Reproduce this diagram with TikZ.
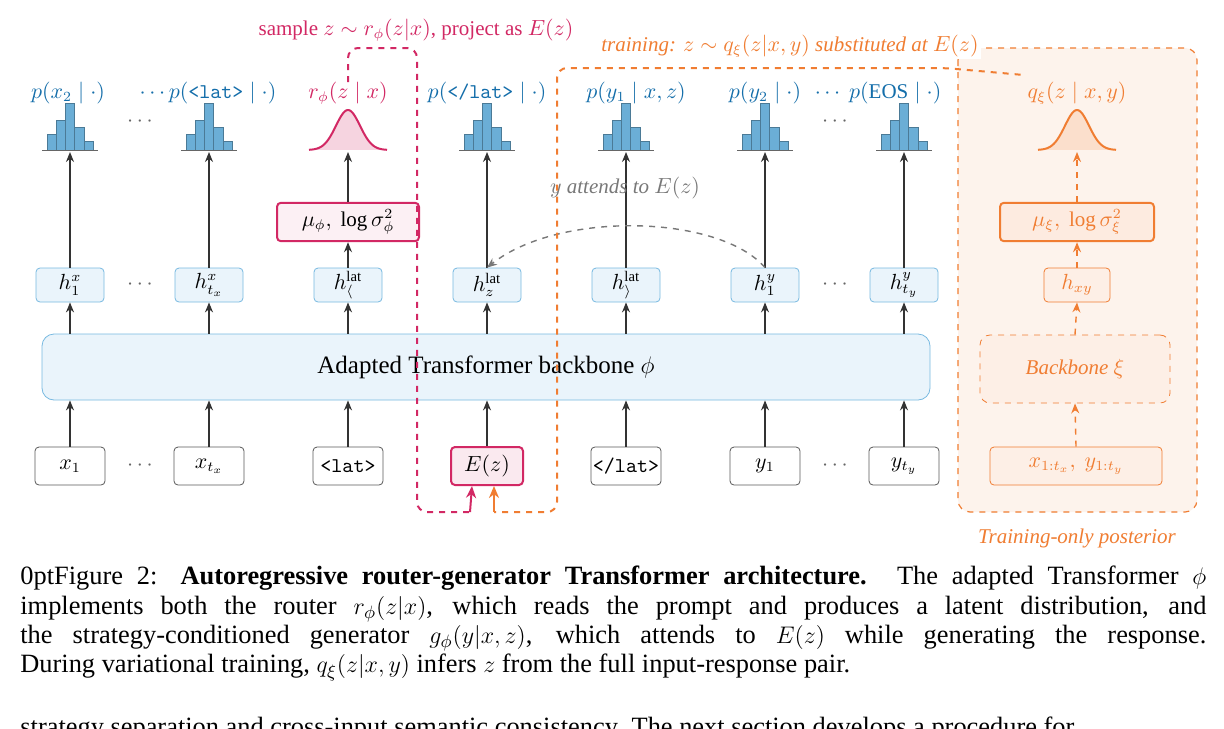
\documentclass[tikz,border=0pt]{standalone}
\usepackage{fontspec}
\setmainfont{Liberation Serif}
\usetikzlibrary{arrows.meta}
\definecolor{tblue}{RGB}{20,110,170}
\definecolor{hfill}{RGB}{107,174,214}
\definecolor{hbox}{RGB}{234,244,251}
\definecolor{hbord}{RGB}{120,185,225}
\definecolor{tred}{RGB}{210,40,100}
\definecolor{tora}{RGB}{240,125,50}
\definecolor{ofill}{RGB}{253,243,236}
\definecolor{gtxt}{RGB}{120,120,120}
\begin{document}
\begin{tikzpicture}[x=0.5pt,y=-0.5pt,
  fs/.style={font=\fontsize{10.5}{12}\selectfont},
  hb/.style={draw=hbord,fill=hbox,rounded corners=2pt,minimum width=34pt,minimum height=17pt,inner sep=1pt,fs},
  ib/.style={draw=black!65,fill=white,rounded corners=2pt,minimum width=35pt,minimum height=19pt,inner sep=1pt,fs},
  lab/.style={fs,text=tblue},
  ar/.style={-{Stealth[length=5pt,width=4pt]},black!80,line width=0.6pt},
  oar/.style={-{Stealth[length=5pt,width=4pt]},tora,dashed,line width=0.7pt},
  dots/.style={fs,text=black!60}]
\clip (0,0) rectangle (1224,728);
\fill[white] (0,0) rectangle (1224,728);
% right panel
\draw[tora,dashed,fill=ofill,rounded corners=6pt,line width=0.6pt] (958,48) rectangle (1197,512);
% histograms
\foreach \c in {70,209,487,626,765,904}{
  \foreach \i/\h in {0/16,1/30,2/47,3/23,4/9}{
    \fill[hfill,draw=hfill!70!black,line width=0.3pt] (\c-23+\i*9.2,150) rectangle ++(9.2,-\h);}
  \draw[black!60,line width=0.5pt] (\c-28,150) -- (\c+28,150);}
% gaussians
\filldraw[tred,fill=tred!20,line width=1pt] plot[domain=-39:39,samples=60] ({348+\x},{150-40*exp(-(\x/17)^2)});
\filldraw[tora,fill=tora!25,line width=1pt] plot[domain=-39:39,samples=60] ({1077+\x},{150-40*exp(-(\x/17)^2)});
% labels
\node[lab] (l1) at (68,93) {$p(x_2\mid\cdot)$};
\node[lab] (l2) at (208,93) {$\cdots p(\texttt{<lat>}\mid\cdot)$};
\node[lab,text=tred] (l3) at (348,93) {$r_\phi(z\mid x)$};
\node[lab] (l4) at (487,93) {$p(\texttt{</lat>}\mid\cdot)$};
\node[lab] (l5) at (636,93) {$p(y_1\mid x,z)$};
\node[lab] (l6) at (765,93) {$p(y_2\mid\cdot)$};
\node[lab] (l7) at (878,93) {$\cdots\ p(\mathrm{EOS}\mid\cdot)$};
\node[lab,text=tora] (l8) at (1077,93) {$q_\xi(z\mid x,y)$};
\node[dots] (d1) at (140,122) {$\cdots$};
\node[dots] (d2) at (835,122) {$\cdots$};
% mu boxes
\node[draw=tred,fill=tred!7,line width=1pt,rounded corners=2pt,minimum width=71pt,minimum height=17pt,fs] (mu) at (348,222) {$\mu_\phi,\ \log\sigma_\phi^2$};
\node[draw=tora,fill=tora!15,line width=1pt,rounded corners=2pt,minimum width=77pt,minimum height=17pt,fs,text=tora] (mux) at (1077,222) {$\mu_\xi,\ \log\sigma_\xi^2$};
% h boxes
\node[hb] (h1) at (70,285) {$h_1^x$};
\node[hb] (h2) at (209,285) {$h_{t_x}^x$};
\node[hb] (h3) at (348,285) {$h_\langle^{\mathrm{lat}}$};
\node[hb] (h4) at (487,285) {$h_z^{\mathrm{lat}}$};
\node[hb] (h5) at (626,285) {$h_\rangle^{\mathrm{lat}}$};
\node[hb] (h6) at (765,285) {$h_1^y$};
\node[hb] (h7) at (904,285) {$h_{t_y}^y$};
\node[draw=tora,fill=tora!12,rounded corners=2pt,minimum width=33pt,minimum height=17pt,inner sep=1pt,fs,text=tora] (hxy) at (1077,285) {$h_{xy}$};
\node[dots] (d3) at (140,285) {$\cdots$};
\node[dots] (d4) at (835,285) {$\cdots$};
% backbone
\node[draw=hbord,fill=hbox,rounded corners=6pt,minimum width=444pt,minimum height=33pt,font=\fontsize{12.5}{14}\selectfont] (bb) at (486,367) {Adapted Transformer backbone $\phi$};
\node[draw=tora,dashed,fill=tora!12,rounded corners=5pt,minimum width=95pt,minimum height=34pt,font=\fontsize{10.5}{12}\itshape\selectfont,text=tora] (bx) at (1075,369) {Backbone $\xi$};
% inputs
\node[ib] (i1) at (70,466) {$x_1$};
\node[ib] (i2) at (209,466) {$x_{t_x}$};
\node[ib] (i3) at (348,466) {\texttt{<lat>}};
\node[ib,draw=tred,fill=tred!10,line width=1pt,minimum width=36pt] (i4) at (487,466) {$E(z)$};
\node[ib] (i5) at (626,466) {\texttt{</lat>}};
\node[ib] (i6) at (765,466) {$y_1$};
\node[ib] (i7) at (904,466) {$y_{t_y}$};
\node[ib,draw=tora,fill=tora!12,minimum width=86pt,text=tora] (ix) at (1076,466) {$x_{1:t_x},\ y_{1:t_y}$};
\node[dots] (d5) at (140,466) {$\cdots$};
\node[dots] (d6) at (835,466) {$\cdots$};
% arrows
\foreach \n in {1,2,3,4,5,6,7}{
  \draw[ar] (i\n.north) -- (i\n.north |- bb.south);
  \draw[ar] (h\n.south |- bb.north) -- (h\n.south);}
\foreach \n/\c in {1/70,2/209,4/487,5/626,6/765,7/904}{
  \draw[ar] (h\n.north) -- (\c,152);}
\draw[ar] (h3.north) -- (mu.south);
\draw[ar] (mu.north) -- (348,152);
\draw[oar] (ix.north) -- (bx.south);
\draw[oar] (bx.north) -- (hxy.south);
\draw[oar] (hxy.north) -- (mux.south);
\draw[oar] (mux.north) -- (1077,152);
% attention curve
\draw[gtxt,dashed,line width=0.7pt,-{Stealth[length=5pt,width=4pt]}] (h6.north) .. controls (720,215) and (560,210) .. (h4.north);
\node[font=\fontsize{10.5}{12}\itshape\selectfont,text=gtxt] (att) at (625,188) {$y$ attends to $E(z)$};
% red sample path
\coordinate (r0) at (348,82);
\draw[tred,dashed,line width=1pt,rounded corners=5pt] (r0) -- (348,48) -- (417,48) -- (417,512) -- (470,512);
\draw[tred,line width=1pt,-{Stealth[length=6pt,width=5pt]}] (470,512) -- (i4.south -| 472,0);
\node[fs,text=tred] (st) at (416,30) {sample $z\sim r_\phi(z|x)$, project as $E(z)$};
% orange training path
\draw[tora,dashed,line width=1pt,rounded corners=5pt] (l8.north west) -- (945,68) -- (557,68) -- (557,512) -- (494,512);
\draw[tora,line width=1pt,-{Stealth[length=6pt,width=5pt]}] (494,512) -- (i4.south -| 494,0);
\node[font=\fontsize{10.5}{12}\itshape\selectfont,text=tora,fill=white,inner sep=1pt] (tt) at (790,46) {training: $z\sim q_\xi(z|x,y)$ substituted at $E(z)$};
\node[font=\fontsize{10.5}{12}\itshape\selectfont,text=tora] (top) at (1077,538) {Training-only posterior};
% caption
\node[anchor=north west,text width=593pt,align=justify,inner sep=0pt,font=\fontsize{13.2}{14.65}\selectfont\hyphenpenalty=10000] (cap) at (20,566) {Figure 2: \textbf{Autoregressive router-generator Transformer architecture.} The adapted Transformer $\phi$\linebreak implements both the router $r_\phi(z|x)$, which reads the prompt and produces a latent distribution, and\linebreak the strategy-conditioned generator $g_\phi(y|x,z)$, which attends to $E(z)$ while generating the response.\linebreak During variational training, $q_\xi(z|x,y)$ infers $z$ from the full input-response pair.};
\node[anchor=base west,inner sep=0pt,font=\fontsize{13.2}{14.65}\selectfont] (nx) at (20,735) {strategy separation and cross-input semantic consistency. The next section develops a procedure for};
\end{tikzpicture}
\end{document}
